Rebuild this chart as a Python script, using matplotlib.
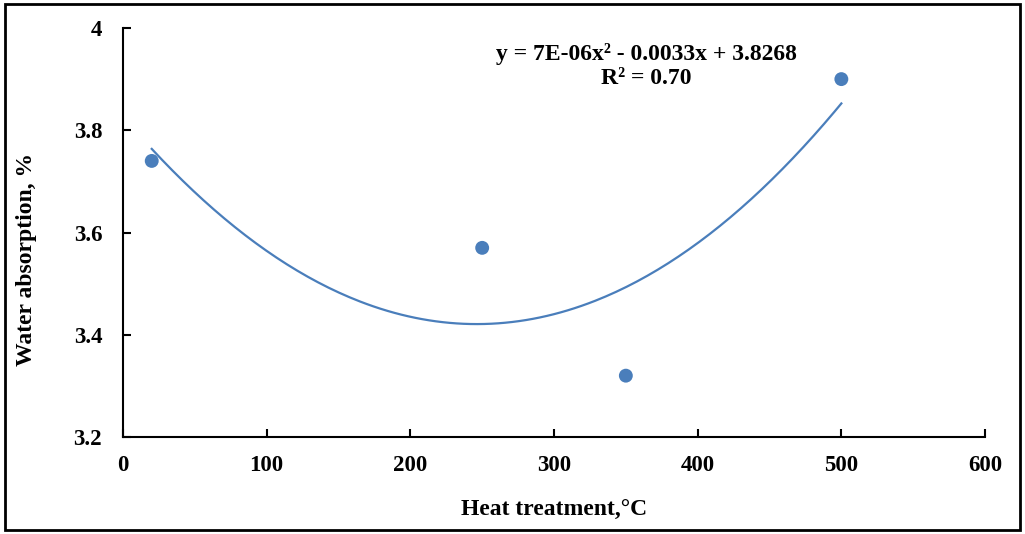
import matplotlib
matplotlib.use('Agg')
import matplotlib.pyplot as plt
import matplotlib.patches as patches
import numpy as np

# data
temps = [20, 250, 350, 500]
absorption = [3.74, 3.57, 3.32, 3.90]
x_ticks = [0, 100, 200, 300, 400, 500, 600]
y_ticks = [3.2, 3.4, 3.6, 3.8, 4.0]
y_tick_labels = ['3.2', '3.4', '3.6', '3.8', '4']
equation = 'y = 7E-06x² - 0.0033x + 3.8268\nR² = 0.70'

plt.rcParams['font.family'] = ['Liberation Serif', 'DejaVu Serif']
plt.rcParams['font.weight'] = 'bold'

fig = plt.figure(figsize=(10.25, 5.34), dpi=100)
ax = fig.add_axes([0.12, 0.1816, 0.841, 0.766])

blue = '#4a7ebb'
ax.scatter(temps, absorption, s=100, color=blue, zorder=3, edgecolors='none')

# polynomial trendline (order 2), like Excel
coef = np.polyfit(temps, absorption, 2)
xs = np.linspace(min(temps), max(temps), 200)
ax.plot(xs, np.polyval(coef, xs), color=blue, lw=1.6, zorder=2)

ax.set_xlim(0, 600)
ax.set_ylim(3.2, 4.0)
ax.set_xticks(x_ticks)
ax.set_yticks(y_ticks)
ax.set_yticklabels(y_tick_labels)
ax.tick_params(direction='in', length=6, width=1.5, labelsize=16.5)
ax.tick_params(axis='x', pad=13)
ax.tick_params(axis='y', pad=15)
for lab in ax.get_xticklabels() + ax.get_yticklabels():
    lab.set_fontweight('bold')

for side in ['top', 'right']:
    ax.spines[side].set_visible(False)
for side in ['left', 'bottom']:
    ax.spines[side].set_linewidth(1.5)

ax.set_xlabel('Heat treatment,°C', fontsize=17, fontweight='bold', labelpad=17)
ax.set_ylabel('Water absorption, %', fontsize=17, fontweight='bold')
ax.yaxis.set_label_coords(-0.100, 0.435)

ax.text(0.607, 0.963, equation, transform=ax.transAxes, ha='center', va='top',
        fontsize=17, fontweight='bold', linespacing=1.2)

# outer frame
frame = patches.Rectangle((0.005, 0.008), 0.99, 0.984, transform=fig.transFigure,
                          fill=False, edgecolor='black', linewidth=2)
fig.patches.append(frame)

fig.savefig('out.png', dpi=100, facecolor='white')
